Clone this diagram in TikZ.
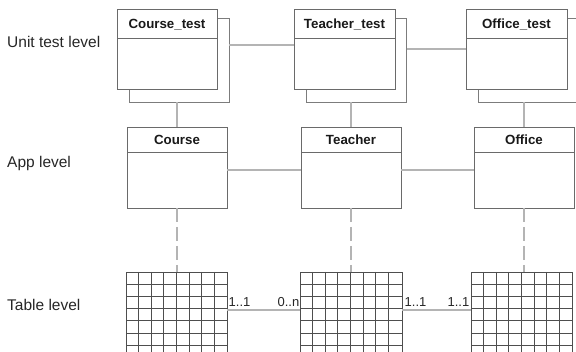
\documentclass[tikz,border=0pt]{standalone}
\usepackage{fontspec}
\setmainfont{Liberation Sans}
\definecolor{boxgray}{HTML}{6A6A6A}
\definecolor{backgray}{HTML}{7C7C7C}
\definecolor{conngray}{HTML}{B4B4B4}
\definecolor{gridgray}{HTML}{4E4E4E}
\begin{document}
\begin{tikzpicture}[x=1pt,y=-1pt,
  classbox/.style={draw=boxgray, fill=white, line width=0.8pt, inner sep=0pt, outer sep=0pt,
    minimum width=100pt, minimum height=80pt},
  backbox/.style={draw=backgray, fill=white, line width=0.8pt, inner sep=0pt, outer sep=0pt,
    minimum width=100pt, minimum height=84pt},
  title/.style={font=\fontsize{13.3}{15}\selectfont\bfseries, text=black!90, inner sep=0pt},
  levellabel/.style={font=\fontsize{15.5}{18}\selectfont, text=black!85, anchor=base west, inner sep=0pt},
  mult/.style={font=\fontsize{13}{15}\selectfont, text=black!85, inner sep=0pt},
  conn/.style={draw=conngray, line width=1.4pt},
  dconn/.style={conn, dash pattern=on 14pt off 5pt},
  tablegrid/.style={draw=gridgray, line width=0.8pt, inner sep=0pt, outer sep=0pt,
    minimum width=101pt, minimum height=97.6pt,
    path picture={
      \foreach \i in {1,...,7}{
        \draw[gridgray, line width=0.8pt]
          ([xshift=\i*12.625pt]path picture bounding box.north west) --
          ([xshift=\i*12.625pt]path picture bounding box.south west);
        \draw[gridgray, line width=0.8pt]
          ([yshift=-\i*12.2pt]path picture bounding box.north west) --
          ([yshift=-\i*12.2pt]path picture bounding box.north east);
      }
    }},
]
\useasboundingbox (0,0) rectangle (576,352);
\clip (0,0) rectangle (576,352);

% level captions
\node[levellabel] (lu) at (7,48) {Unit test level};
\node[levellabel] (la) at (7,168) {App level};
\node[levellabel] (lt) at (7,311) {Table level};

% unit test classes: a shadow sheet behind each class
\node[backbox] (cb) at (179,60) {};
\node[backbox] (tb) at (356.5,60) {};
\node[backbox] (ob) at (528.5,60) {};
\node[classbox] (ct) at (167,49) {};
\node[classbox, minimum width=101pt] (tt) at (344.5,49) {};
\node[classbox, minimum width=101pt] (ot) at (516.5,49) {};
\foreach \n/\t in {ct/Course\_test, tt/Teacher\_test, ot/Office\_test}{
  \draw[boxgray, line width=0.8pt] ([yshift=-29pt]\n.north west) -- ([yshift=-29pt]\n.north east);
  \node[title] at ([yshift=-15.5pt]\n.north) {\t};
}

% app classes
\node[classbox, minimum height=81pt] (ca) at (177,167.5) {};
\node[classbox, minimum height=81pt] (ta) at (351,167.5) {};
\node[classbox, minimum height=81pt] (oa) at (524,167.5) {};
\foreach \n/\t in {ca/Course, ta/Teacher, oa/Office}{
  \draw[boxgray, line width=0.8pt] ([yshift=-25pt]\n.north west) -- ([yshift=-25pt]\n.north east);
  \node[title] at ([yshift=-12.5pt]\n.north) {\t};
}

% tables
\node[tablegrid] (cg) at (176.5,320.8) {};
\node[tablegrid, minimum width=102pt] (tg) at (351,320.8) {};
\node[tablegrid] (og) at (521.5,320.8) {};

% connectors between unit tests
\draw[conn] ([yshift=15pt]cb.east) -- ([yshift=4pt]tt.west);
\draw[conn] ([yshift=11pt]tb.east) -- (ot.west);

% unit tests to app classes
\draw[conn] (ca.north) -- (ca.north |- cb.south);
\draw[conn] (ta.north) -- (ta.north |- tb.south);
\draw[conn] (oa.north) -- (oa.north |- ob.south);

% app associations
\draw[conn] ([yshift=-2.5pt]ca.east) -- ([yshift=-2.5pt]ta.west);
\draw[conn] ([yshift=-2.5pt]ta.east) -- ([yshift=-2.5pt]oa.west);

% app classes to tables
\draw[dconn] (ca.south) -- (ca.south |- cg.north);
\draw[dconn] (ta.south) -- (ta.south |- tg.north);
\draw[dconn] (oa.south) -- (oa.south |- og.north);

% table relations with multiplicities
\draw[conn] ([yshift=10.8pt]cg.east) -- ([yshift=10.8pt]tg.west);
\draw[conn] ([yshift=10.8pt]tg.east) -- ([yshift=10.8pt]og.west);
\node[mult, anchor=base west] (m1) at (228.5,307) {1..1};
\node[mult, anchor=base east] (m2) at (299.5,307) {0..n};
\node[mult, anchor=base west] (m3) at (404.5,307) {1..1};
\node[mult, anchor=base east] (m4) at (469.5,307) {1..1};
\end{tikzpicture}
\end{document}
